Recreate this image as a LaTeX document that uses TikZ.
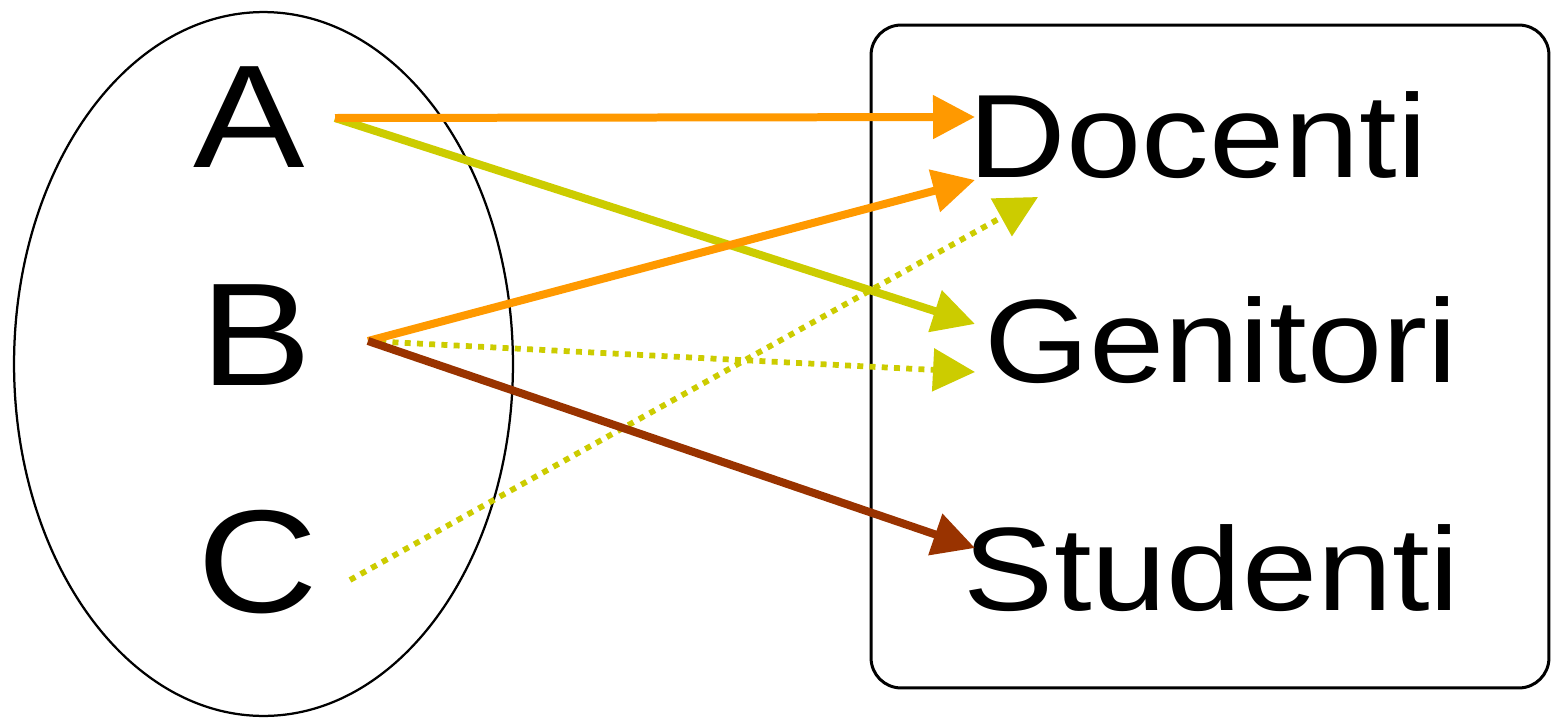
\documentclass[tikz,border=0pt]{standalone}
\usepackage{fontspec}
\setmainfont{Liberation Sans}
\newfontfamily\lbl[FakeStretch=1.14]{Liberation Sans}
\usetikzlibrary{arrows.meta,shapes.geometric}
\definecolor{orng}{HTML}{FF9900}
\definecolor{ylw}{HTML}{CCCC00}
\definecolor{brwn}{HTML}{993300}
\tikzset{
  bigletter/.style={inner sep=0pt, anchor=base, font=\lbl\fontsize{83.4}{90}\selectfont},
  word/.style={inner sep=0pt, anchor=base, font=\lbl\fontsize{67.5}{75}\selectfont},
  solidarrow/.style={line width=0.16cm, -{Triangle[length=0.84cm,width=0.84cm]}},
  dotarrow/.style={line width=0.115cm, dash pattern=on 0.12cm off 0.125cm, -{Triangle[length=0.84cm,width=0.84cm]}},
}
\begin{document}
\begin{tikzpicture}[x=0.02cm,y=-0.02cm]
\useasboundingbox (0,0) rectangle (1551,717);
% sets
\node[draw, line width=0.045cm, ellipse, minimum width=9.98cm, minimum height=14.08cm, inner sep=0pt] (setL) at (263.5,364) {};
\node[draw, line width=0.06cm, rounded corners=0.6cm, minimum width=13.56cm, minimum height=13.26cm, inner sep=0pt] (setR) at (1210,356.5) {};
% labels
\node[bigletter] (A) at (249,167) {A};
\node[bigletter] (B) at (256,385) {B};
\node[bigletter] (C) at (258,612) {C};
\node[word] (doc) at (1198,177) {Docenti};
\node[word] (gen) at (1221,382) {Genitori};
\node[word] (stu) at (1212,610) {Studenti};
% connector ends
\coordinate (a0) at (335,118);
\coordinate (b0) at (368,341);
\coordinate (c0) at (350,580);
\coordinate (d1) at (975,117);
\coordinate (d2) at (975,180);
\coordinate (d3) at (1038,197);
\coordinate (g1) at (975,324);
\coordinate (g2) at (975,372);
\coordinate (s1) at (975,548);
% arrows
\draw[dotarrow, ylw] (c0) -- (d3);
\draw[dotarrow, ylw] (b0) -- (g2);
\draw[solidarrow, ylw] (a0) -- (g1);
\draw[solidarrow, orng] (a0) -- (d1);
\draw[solidarrow, orng] (b0) -- (d2);
\draw[solidarrow, brwn] (b0) -- (s1);
\end{tikzpicture}
\end{document}
